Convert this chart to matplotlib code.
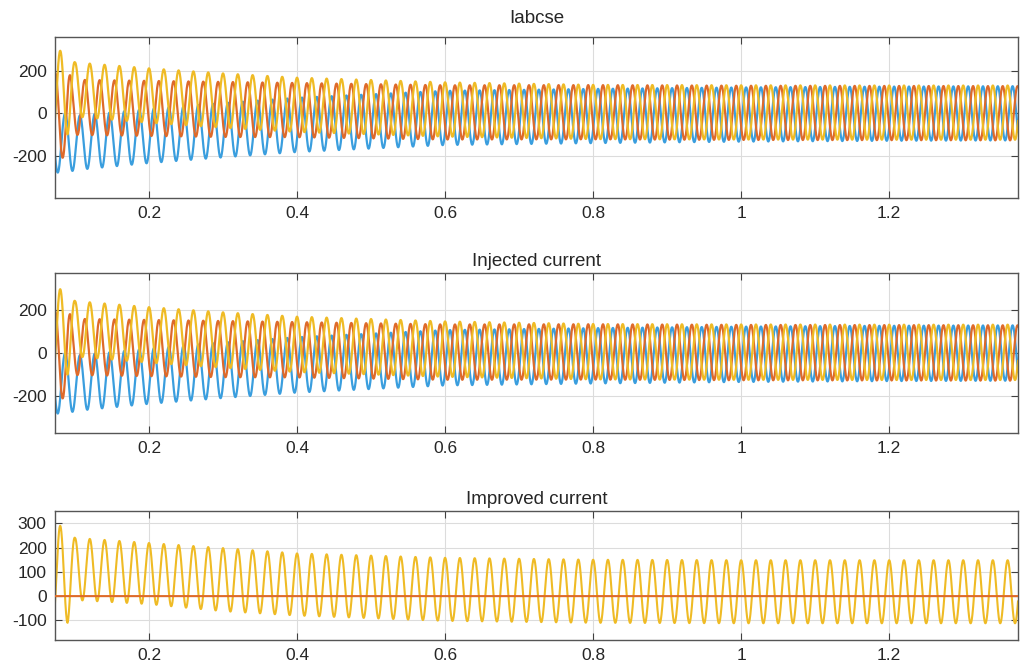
import numpy as np
import matplotlib
matplotlib.use("Agg")
import matplotlib.pyplot as plt

plt.rcParams['font.family'] = ['Liberation Sans', 'DejaVu Sans']

# ---- data ----
freq_hz = 50.0
t_start, t_end = 0.07, 1.38
# envelope sample times (s)
t_env = [0.07, 0.09, 0.10, 0.20, 0.30, 0.40, 0.60, 0.80, 1.00, 1.20, 1.38]
# three-phase currents: DC offset and amplitude read at t_env
ia_offset = [-140, -140, -140, -107, -80, -55, -22, -13, -6, -2, 0]
ia_amp = [140, 140, 128, 128, 128, 128, 128, 128, 128, 128, 128]
ib_offset = [-10, -10, 28, 23, 18, 15, 4, 5, 2, 1, 0]
ib_amp = [200, 200, 130, 130, 130, 128, 128, 128, 128, 128, 128]
ic_offset = [90, 100, 112, 84, 60, 40, 18, 6, 4, 3, 3]
ic_amp = [200, 200, 128, 128, 128, 128, 128, 128, 128, 128, 128]
# improved current (single phase) envelope
imp_offset = [90, 90, 112, 93, 68, 48, 28, 20, 18, 18, 18]
imp_amp = [200, 200, 128, 126, 130, 128, 130, 130, 130, 130, 130]

titles = ["Iabcse", "Injected current", "Improved current"]
x_ticks = [0.2, 0.4, 0.6, 0.8, 1.0, 1.2]
x_ticklabels = ["0.2", "0.4", "0.6", "0.8", "1", "1.2"]
y_ticks_abc = [-200, 0, 200]
y_ticks_imp = [-100, 0, 100, 200, 300]

# ---- styling ----
c_blue = "#3a9ede"
c_orange = "#de6a2a"
c_yellow = "#efbb25"
txt = "#262626"

t = np.arange(t_start, t_end, 0.0002)
w = 2 * np.pi * freq_hz


def phase(off, amp, shift):
    return np.interp(t, t_env, off) + np.interp(t, t_env, amp) * np.cos(w * t + shift)


ia = phase(ia_offset, ia_amp, -2 * np.pi / 3)
ib = phase(ib_offset, ib_amp, 2 * np.pi / 3)
ic = phase(ic_offset, ic_amp, 0.0)
imp = phase(imp_offset, imp_amp, 0.0)
zero = np.zeros_like(t)

fig = plt.figure(figsize=(10.24, 6.68), dpi=100)
W, H = 1024.0, 668.0
L, R = 55, 1018
boxes = [(37, 198), (273, 433), (511, 640)]
ylims = [(-400, 360), (-370, 370), (-181, 351)]

axes = []
for (top, bot) in boxes:
    ax = fig.add_axes([L / W, 1 - bot / H, (R - L) / W, (bot - top) / H])
    axes.append(ax)

for i, ax in enumerate(axes[:2]):
    ax.plot(t, ia, color=c_blue, lw=1.6)
    ax.plot(t, ib, color=c_orange, lw=1.6)
    ax.plot(t, ic, color=c_yellow, lw=1.6)
    ax.set_yticks(y_ticks_abc)
    ax.set_yticklabels([str(v) for v in y_ticks_abc])

ax = axes[2]
ax.plot(t, imp, color=c_yellow, lw=1.5, zorder=2)
ax.plot(t, zero, color=c_orange, lw=1.5, zorder=3)
ax.set_yticks(y_ticks_imp)
ax.set_yticklabels([str(v) for v in y_ticks_imp])

for i, ax in enumerate(axes):
    ax.set_xlim(0.073, 1.374)
    ax.set_ylim(*ylims[i])
    ax.set_xticks(x_ticks)
    ax.set_xticklabels(x_ticklabels)
    ax.grid(True, color="#dcdcdc", lw=0.8)
    ax.set_axisbelow(True)
    ax.tick_params(direction="in", top=True, right=True, length=5, width=0.8,
                   colors="#404040", labelsize=12.5, labelcolor=txt, pad=6)
    for s in ax.spines.values():
        s.set_color("#555555")
        s.set_linewidth(1.0)
    ax.set_title(titles[i], fontsize=13.5, color=txt, pad=[10, 5, 5][i])

fig.savefig("out.png", dpi=100)
